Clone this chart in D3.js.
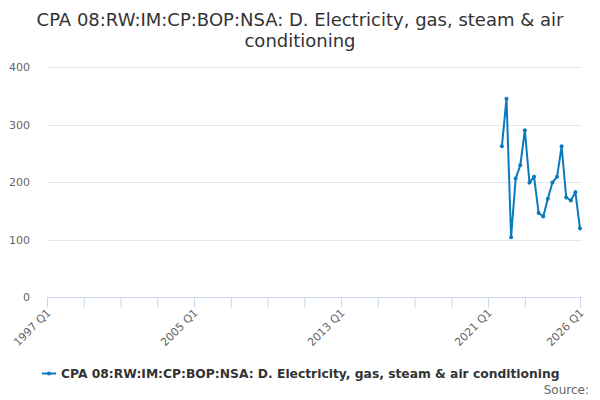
<!DOCTYPE html>
<html><head><meta charset="utf-8">
<script src="https://cdn.jsdelivr.net/npm/d3@7"></script>
<style>body{margin:0;background:#fff;}svg{display:block;font-family:"DejaVu Sans",sans-serif;}</style>
</head><body><svg id="c" width="600" height="400"></svg>
<script>
const titleLines = ["CPA 08:RW:IM:CP:BOP:NSA: D. Electricity, gas, steam & air", "conditioning"];
const seriesName = "CPA 08:RW:IM:CP:BOP:NSA: D. Electricity, gas, steam & air conditioning";
const quarters = ["2021 Q4","2022 Q1","2022 Q2","2022 Q3","2022 Q4","2023 Q1","2023 Q2","2023 Q3","2023 Q4","2024 Q1","2024 Q2","2024 Q3","2024 Q4","2025 Q1","2025 Q2","2025 Q3","2025 Q4","2026 Q1"];
const values = [262, 345, 104, 206, 229, 290, 199, 209, 146, 140, 171, 199, 209, 262, 173, 168, 182, 119];
const yTicks = [0, 100, 200, 300, 400];
const xStart = "1997 Q1", xEnd = "2026 Q1";
const xTickYears = [1997,1999,2001,2003,2005,2007,2009,2011,2013,2015,2017,2019,2021,2023,2026];
const xLabelYears = [1997, 2005, 2013, 2021, 2026];

const qIndex = s => { const [y,q] = s.split(" Q"); return (+y)*4 + (+q - 1); };
const svg = d3.select("#c");
const L = 47, R = 580, T = 67, B = 297;
const x = d3.scaleLinear().domain([qIndex(xStart), qIndex(xEnd)]).range([L, R]);
const y = d3.scaleLinear().domain([0, 400]).range([B, T]);

// title
svg.append("text").attr("x",300).attr("y",0).attr("text-anchor","middle")
  .attr("fill","#333").style("font-size","18px")
  .selectAll("tspan").data(titleLines).join("tspan")
  .attr("x",300).attr("y",(d,i)=>26+i*21).text(d=>d);

// grid
svg.append("g").selectAll("line").data(yTicks.filter(d=>d>0)).join("line")
  .attr("x1",L).attr("x2",R+2).attr("y1",d=>Math.round(y(d))+0.5).attr("y2",d=>Math.round(y(d))+0.5)
  .attr("stroke","#e6e6e6");
// y labels
svg.append("g").selectAll("text").data(yTicks).join("text")
  .attr("x",30).attr("y",d=>y(d)+4).attr("text-anchor","end")
  .attr("fill","#666").style("font-size","11px").text(d=>d);

// x axis
const xAxis = d3.axisBottom(x).tickValues(xTickYears.map(v=>v*4)).tickSize(10)
  .tickFormat(d => xLabelYears.includes(d/4) ? (d/4)+" Q1" : "");
const gx = svg.append("g").attr("transform",`translate(0,${B+0.5})`).call(xAxis);
gx.select(".domain").attr("stroke","#ccd6eb").attr("d",`M${L},0H${R+2}`);
gx.selectAll(".tick line").attr("stroke","#ccd6eb");
gx.selectAll(".tick text").attr("fill","#666").style("font-size","11px")
  .style("font-family","DejaVu Sans")
  .attr("text-anchor","end").attr("dy",null).attr("y",0)
  .attr("transform","translate(4,16) rotate(-45)");

// line
const pts = quarters.map((q,i)=>({x:qIndex(q), v:values[i]}));
const col = "#0a7abf";
svg.append("path").datum(pts)
  .attr("d", d3.line().x(d=>x(d.x)).y(d=>y(d.v)))
  .attr("fill","none").attr("stroke",col).attr("stroke-width",2);
svg.append("g").selectAll("circle").data(pts).join("circle")
  .attr("cx",d=>x(d.x)).attr("cy",d=>y(d.v)).attr("r",2).attr("fill",col);

// legend
const lg = svg.append("g");
lg.append("line").attr("x1",42).attr("x2",56).attr("y1",373.5).attr("y2",373.5).attr("stroke",col).attr("stroke-width",2);
lg.append("circle").attr("cx",49).attr("cy",373.5).attr("r",2).attr("fill",col);
lg.append("text").attr("x",61).attr("y",378).attr("fill","#333")
  .style("font-size","12.3px").style("font-weight","bold").text(seriesName);
svg.append("text").attr("x",589).attr("y",394).attr("text-anchor","end")
  .attr("fill","#666").style("font-size","12px").text("Source:");
</script></body></html>
